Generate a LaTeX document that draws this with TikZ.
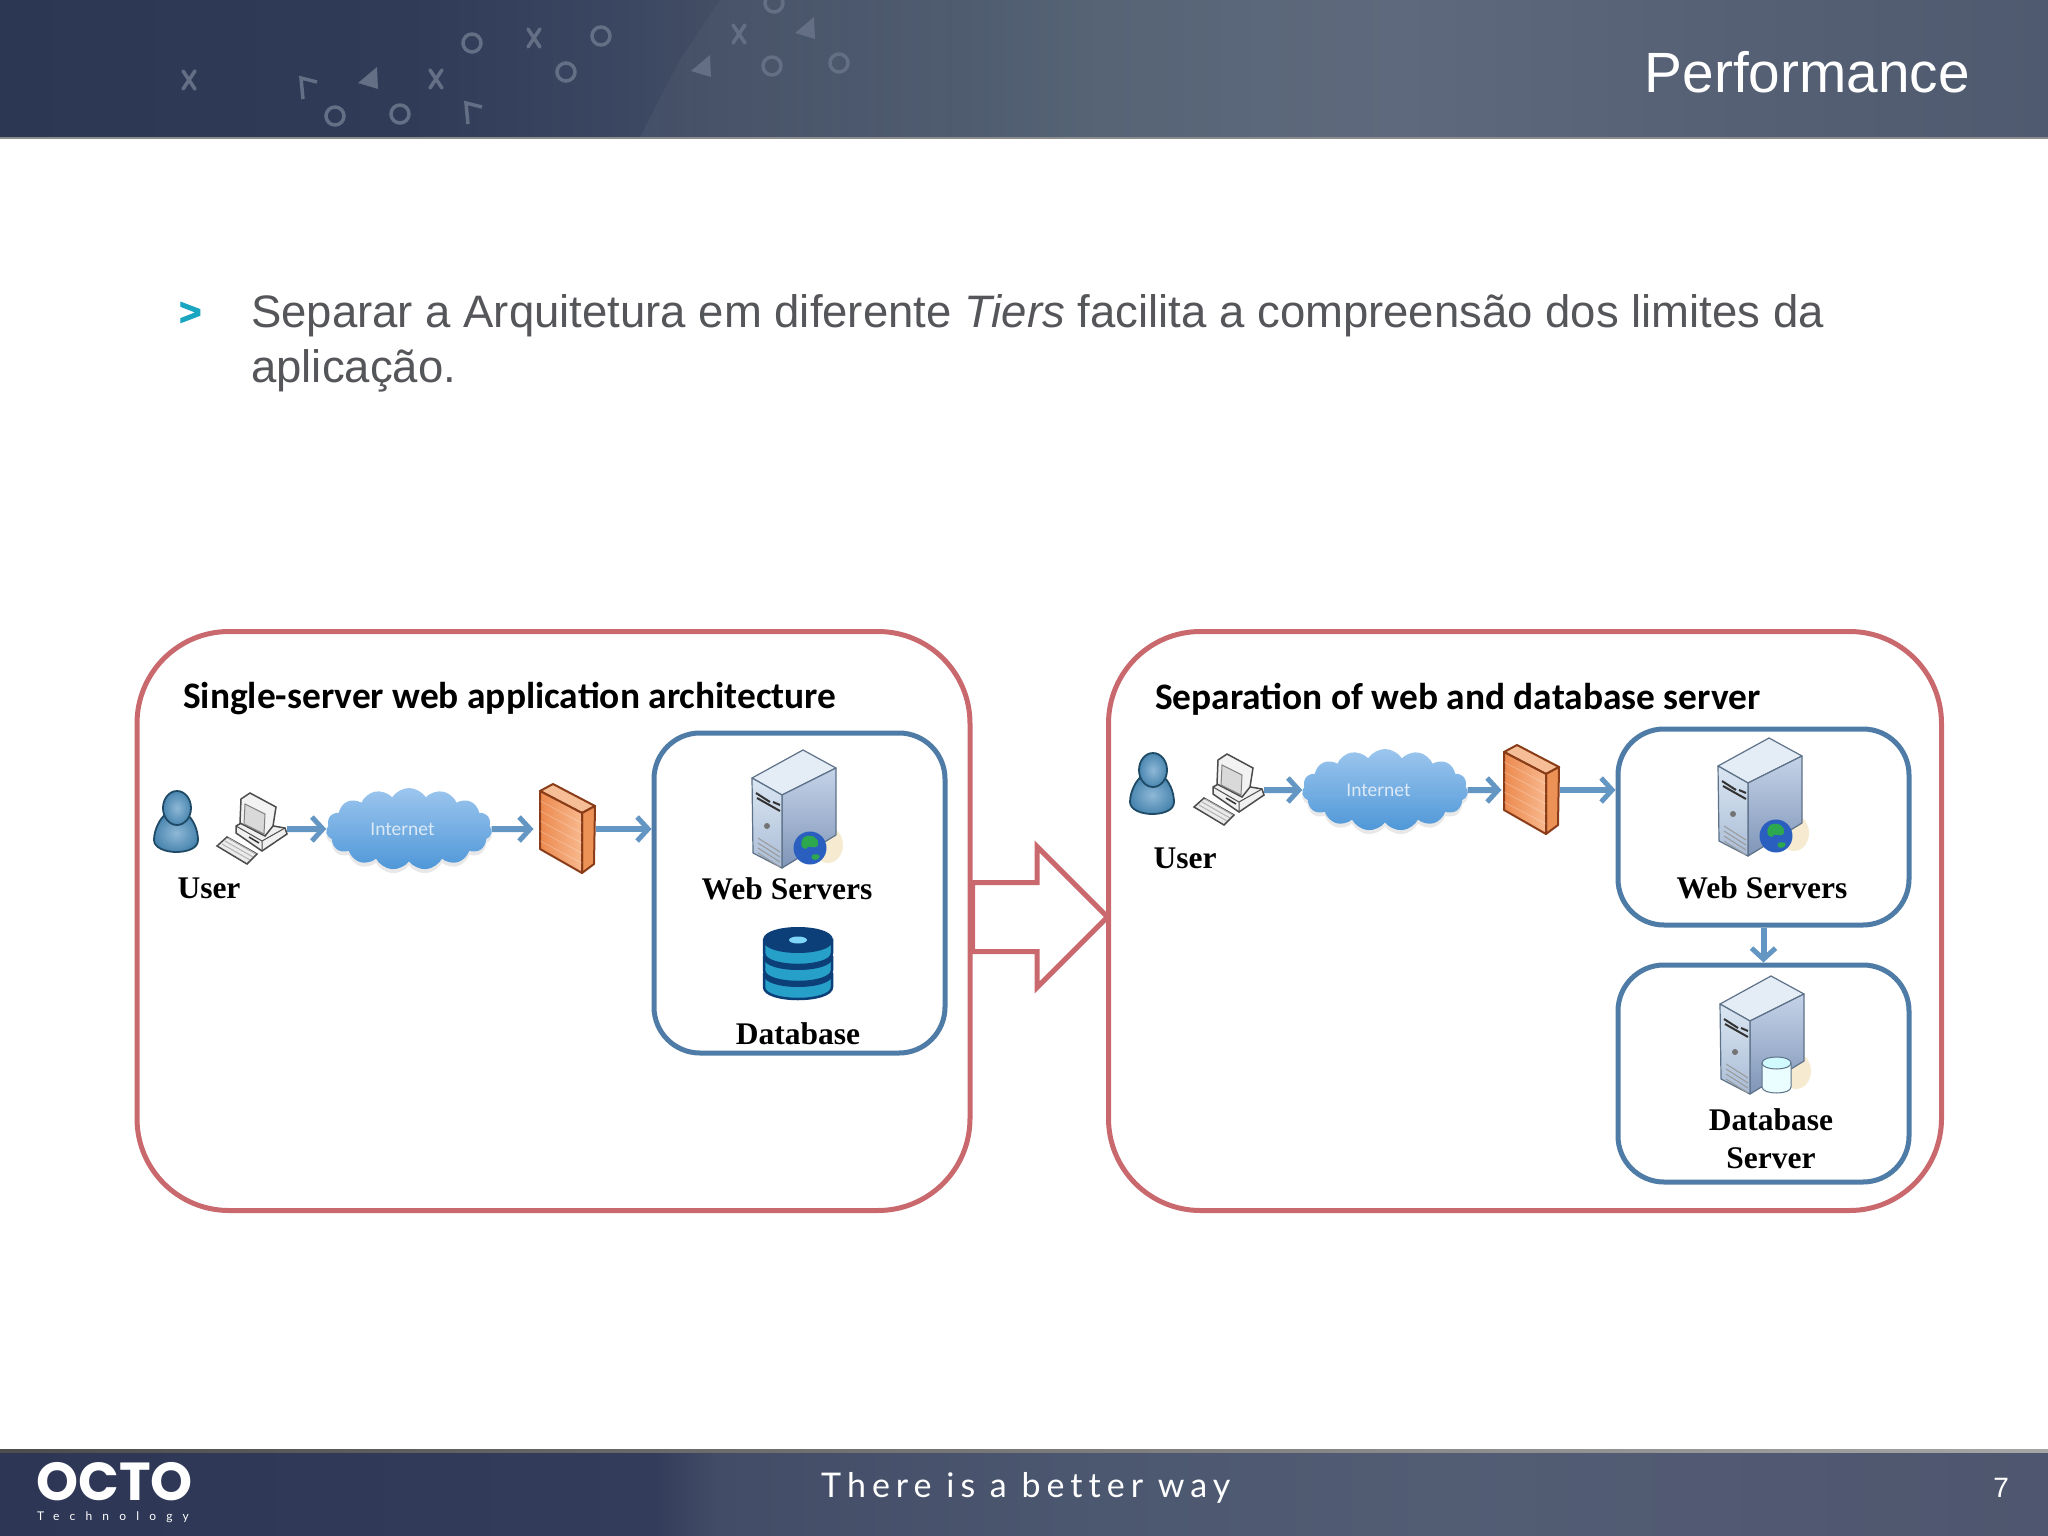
\documentclass[tikz,border=0pt]{standalone}
\usepackage{fontspec}
\setmainfont{Liberation Sans}
\newfontfamily\calibfont{Carlito}
\newfontfamily\serifbold{Liberation Serif}
\newfontfamily\logofont{Poppins}
\newfontfamily\bulletfont[BoldFeatures={FakeBold=2.5}]{Liberation Sans}
\newfontfamily\tagfont[LetterSpace=17.7,Ligatures=NoCommon]{Lato}
\newfontfamily\techfont[LetterSpace=85,Ligatures=NoCommon]{Lato}
\usetikzlibrary{arrows.meta,shapes.symbols,shapes.arrows,shadows,fadings}
\definecolor{bodygrey}{HTML}{55565A}
\definecolor{bullcyan}{HTML}{1AA5C0}
\definecolor{redline}{HTML}{C9696E}
\definecolor{blueline}{HTML}{4F7CA6}
\definecolor{flowblue}{HTML}{6496C4}
\definecolor{markgrey}{HTML}{646E84}
\definecolor{srvedge}{HTML}{5D7188}
\definecolor{walledge}{HTML}{8A3C18}
\definecolor{useredge}{HTML}{1F4A66}
\definecolor{banddark}{HTML}{0C3F78}
\definecolor{bandcyan}{HTML}{27A0C9}
\definecolor{cloudtop}{HTML}{9CC6EE}
\definecolor{cloudlow}{HTML}{4F97D8}
\definecolor{cloudtext}{HTML}{DCE9F6}
\definecolor{hA}{HTML}{2C3753}\definecolor{hB}{HTML}{303B58}\definecolor{hC}{HTML}{3C4762}
\definecolor{hD}{HTML}{424D64}\definecolor{hE}{HTML}{566476}\definecolor{hF}{HTML}{5F697D}
\definecolor{hG}{HTML}{566175}\definecolor{hH}{HTML}{4F5A70}
\pgfdeclarehorizontalshading{headshade}{100bp}{color(0bp)=(hA);color(25bp)=(hA);color(35bp)=(hB);color(40.6bp)=(hC);color(42.1bp)=(hD);color(51.9bp)=(hE);color(59.2bp)=(hF);color(66.5bp)=(hG);color(75bp)=(hH);color(100bp)=(hH)}
\definecolor{fA}{HTML}{2D3654}\definecolor{fB}{HTML}{333C5A}\definecolor{fC}{HTML}{434C66}
\definecolor{fD}{HTML}{4C5770}\definecolor{fE}{HTML}{525D74}\definecolor{fF}{HTML}{4F566F}
\pgfdeclarehorizontalshading{footshade}{100bp}{color(0bp)=(fA);color(25bp)=(fA);color(41bp)=(fB);color(42.5bp)=(fC);color(52bp)=(fD);color(60bp)=(fE);color(75bp)=(fF);color(100bp)=(fF)}
\tikzset{
   iconbox/.style={minimum width=#1,inner sep=0pt,outer sep=0pt},
   redbox/.style={draw=redline,line width=5pt,rounded corners=92pt,minimum width=833pt,minimum height=579pt,inner sep=0pt,fill=white},
   bluebox/.style={draw=blueline,line width=5pt,rounded corners=46pt,minimum width=291pt,inner sep=0pt},
   flow/.style={draw=flowblue,line width=6pt,-{Straight Barb[length=11pt,width=24pt,line width=5pt]}},
   netcloud/.style={cloud,cloud puffs=15,cloud puff arc=115,aspect=2,minimum width=166pt,minimum height=82pt,inner sep=0pt,top color=cloudtop,bottom color=cloudlow,draw=none,text=cloudtext,font=\calibfont\fontsize{19.5}{22}\selectfont,drop shadow={opacity=.18,shadow xshift=0pt,shadow yshift=-4pt}},
   serverlabel/.style={font=\serifbold\bfseries\fontsize{31.5}{34}\selectfont,text=black,inner sep=0pt},
   paneltitle/.style={font=\calibfont\bfseries\fontsize{37.4}{40}\selectfont,text=black,anchor=base west,inner sep=0pt},
   marks/.style={draw=markgrey,line width=3.5pt},
   user/.pic={
      \definecolor{uIn}{HTML}{8FB8D6}\definecolor{uOut}{HTML}{4A86B0}
      \path[draw=useredge,line width=1.8pt,inner color=uIn,outer color=uOut]
        (-10,-8) .. controls (-16,-4) and (-22,8) .. (-22,18) .. controls (-22,26) and (-10,30) .. (0,30)
        .. controls (12,30) and (22,26) .. (22,18) .. controls (22,8) and (17,-4) .. (10,-8) -- cycle;
      \path[inner color=uIn,outer color=uOut,draw=useredge,line width=1.8pt]
        (1,-14) ellipse [x radius=14,y radius=17];
   },
   computer/.pic={
      \draw[black!70,line width=1.5pt,fill=black!8] (-34,17) -- (-24,8) -- (6,25) -- (-4,35) -- cycle;
      \foreach \k in {0,1,2} {
         \draw[black!30,line width=1pt] (-29+\k*3,15-\k*3) -- (-1+\k*3,31-\k*3);
      }
      \draw[black!70,line width=1.5pt,fill=black!6] (-15,-3) -- (-6,-8) -- (34,-1) -- (36,5) -- (11,22) -- (-15,4) -- cycle;
      \draw[black!70,line width=1pt] (-15,-3) -- (11,12) -- (34,-1) (11,12) -- (11,22);
      \draw[black!80,line width=1.5pt] (-2,8) -- (8,14);
      \draw[black!70,line width=1.5pt,fill=black!5] (-10,-30) -- (-1,-36) -- (25,-22) -- (22,-3) -- (14,7) -- (-11,-6) -- cycle;
      \draw[black!50,line width=1pt,fill=black!15] (-6,-25) -- (14,-15) -- (13,5) -- (-7,-5) -- cycle;
   },
   wall/.pic={
      \definecolor{wTop}{HTML}{F6BE96}\definecolor{wSide}{HTML}{EC9256}\definecolor{wL}{HTML}{EC8A4E}\definecolor{wR}{HTML}{F8B88E}
      \draw[walledge,line width=2pt,fill=wTop,line join=round] (-27,-38) -- (-14,-45) -- (28,-23) -- (15,-16) -- cycle;
      \draw[walledge,line width=2pt,fill=wSide,line join=round] (15,-16) -- (28,-23) -- (27,35) -- (15,44) -- cycle;
      \draw[walledge,line width=2pt,left color=wL,right color=wR,line join=round] (-27,-38) -- (15,-16) -- (15,44) -- (-27,20) -- cycle;
      \foreach \b in {1,...,5} {
         \draw[white,opacity=.25,line width=.8pt] (-27,-38+\b*10) -- (15,-16+\b*10);
      }
   },
   server/.pic={
      \definecolor{sTop}{HTML}{E4EDF6}\definecolor{sRa}{HTML}{C5D3E8}\definecolor{sRb}{HTML}{7F95B8}\definecolor{sLa}{HTML}{DBE6F2}\definecolor{sLb}{HTML}{A9BCD6}
      \fill[yellow!30!brown!22!white] (34,36) ellipse [x radius=15,y radius=18];
      \draw[srvedge,line width=1.2pt,fill=sTop,line join=round] (-42,-31) -- (9,-59) -- (42,-41) -- (-12,-14) -- cycle;
      \draw[srvedge,line width=1.2pt,top color=sRa,bottom color=sRb,line join=round] (-12,-14) -- (42,-41) -- (42,26) -- (-12,59) -- cycle;
      \draw[srvedge,line width=1.2pt,top color=sLa,bottom color=sLb,line join=round] (-42,-31) -- (-12,-14) -- (-12,59) -- (-41,44) -- cycle;
      \draw[black!80,line width=2pt] (-38,-16) -- (-24,-7) (-21,-7) -- (-14,-4) (-37,-11) -- (-14,2);
      \fill[black!55] (-27,17) circle [radius=3];
      \foreach \v in {0,...,3} {
         \draw[black!40,line width=1pt] (-36,29+\v*5) -- (-14,43+\v*5);
      }
   },
   globe/.pic={
      \definecolor{gBlue}{HTML}{2A5FC0}\definecolor{gGreen}{HTML}{2EA84F}
      \fill[gBlue] (16,39) circle [radius=16.5];
      \fill[gGreen] (10,28) .. controls (18,24) and (26,30) .. (24,36) .. controls (20,42) and (16,34) .. (12,40) .. controls (6,40) and (6,32) .. (10,28) -- cycle;
      \fill[gGreen] (18,46) .. controls (24,44) and (28,46) .. (24,50) .. controls (20,52) and (16,50) .. (18,46) -- cycle;
   },
   drum/.pic={
      \draw[srvedge,line width=1pt,fill=blue!6!cyan!8!white] (0,28) -- (0,52) .. controls (0,60) and (29,60) .. (29,52) -- (29,28);
      \draw[srvedge,line width=1pt,fill=blue!10!cyan!18!white] (0,28) .. controls (0,20) and (29,20) .. (29,28) .. controls (29,36) and (0,36) .. (0,28) -- cycle;
   },
   dbstack/.pic={
      \foreach \t in {9,-8,-25} {
         \draw[banddark,line width=2.5pt,fill=bandcyan] (-34,\t) -- (-34,\t+13) .. controls (-34,\t+29) and (34,\t+29) .. (34,\t+13) -- (34,\t) -- cycle;
         \draw[banddark,line width=2pt,fill=banddark] (-34,\t) .. controls (-34,\t-16) and (34,\t-16) .. (34,\t) .. controls (34,\t+16) and (-34,\t+16) .. (-34,\t) -- cycle;
      }
      \fill[cyan!50!white] (0,-25) ellipse [x radius=9,y radius=3.5];
   },
}
\begin{document}
\begin{tikzpicture}[x=1pt,y=-1pt]
   \useasboundingbox (0,0) rectangle (2048,1536);
   \fill[white] (0,0) rectangle (2048,1536);

   \shade[shading=headshade] (0,0) rectangle (2048,137);
   \fill[white,opacity=.04,path fading=east] (640,137) -- (680,60) -- (720,0) -- (1000,0) -- (1000,137) -- cycle;
   \draw[black!45,line width=1.5pt] (0,138) -- (2048,138);
   \foreach \x/\y in {189/80,436/79,534/38,739/34} {
      \draw[marks,line cap=round] (\x-6,\y-9) -- (\x+6,\y+9) (\x+6,\y-9) -- (\x-6,\y+9);
   }
   \foreach \x/\y in {472/43,601/36,566/72,772/66,839/63,335/116,400/114,774/3} {
      \draw[marks] (\x,\y) circle [radius=9];
   }
   \foreach \x/\y in {368/78,805/28,701/66} {
      \fill[markgrey] (\x+9,\y-11) -- (\x+10,\y+11) -- (\x-10,\y+5) -- cycle;
   }
   \foreach \x/\y in {305/87,470/112} {
      \draw[marks] (\x-2,\y+12) -- (\x-4,\y-9) -- (\x+12,\y-5);
   }
   \node[anchor=base east,inner sep=0pt,text=white,font=\fontsize{56.8}{60}\selectfont] (headtitle) at (1970,93) {Performance};

   \node[anchor=base west,inner sep=0pt,text=bullcyan,font=\bulletfont\bfseries\fontsize{38}{40}\selectfont] (bullet) at (179,325) {>};
   \node[anchor=base west,inner sep=0pt,text=bodygrey,font=\fontsize{45.5}{50}\selectfont] (lineA) at (251,327) {Separar a Arquitetura em diferente \textit{Tiers} facilita a compreensão dos limites da};
   \node[anchor=base west,inner sep=0pt,text=bodygrey,font=\fontsize{45.5}{50}\selectfont] (lineB) at (251,382) {aplicação.};

   \node[redbox] (panelA) at (553.5,921) {};
   \node[paneltitle] (titleA) at (183,708) {Single-server web application architecture};
   \node[bluebox,minimum height=320pt] (boxA) at (799.5,893) {};

   \node[iconbox=44pt,minimum height=60pt] (userA) at (176,822) {};
   \pic at (userA) {user};
   \node[serverlabel] (userlabelA) at (209,888) {User};
   \node[iconbox=72pt,minimum height=70pt] (pcA) at (251,829) {};
   \pic at (pcA) {computer};
   \node[netcloud] (cloudA) at (409,829) {Internet\hspace*{13pt}};
   \node[iconbox=57pt,minimum height=88pt] (wallA) at (567,829) {};
   \pic at (wallA) {wall};
   \draw[flow] (pcA.east) -- (cloudA.west);
   \draw[flow,shorten >=5pt] (cloudA.east) -- (wallA.west);
   \draw[flow] (wallA.east) -- (wallA.east -| boxA.west);
   \node[iconbox=84pt,minimum height=118pt] (webA) at (794,809) {};
   \pic at (webA) {server};
   \pic at (webA) {globe};
   \node[serverlabel] (weblabelA) at (787,889) {Web Servers};
   \node[iconbox=70pt,minimum height=74pt] (dbA) at (798,965) {};
   \pic at (dbA) {dbstack};
   \node[serverlabel] (dblabelA) at (798,1034) {Database};

   \node[redbox] (panelB) at (1525,921) {};
   \node[paneltitle] (titleB) at (1155,709) {Separation of web and database server};
   \node[bluebox,minimum height=196pt] (boxB) at (1763.5,827) {};
   \node[bluebox,minimum height=217pt] (boxC) at (1763.5,1073.5) {};

   \node[iconbox=44pt,minimum height=60pt] (userB) at (1152,784) {};
   \pic at (userB) {user};
   \node[serverlabel] (userlabelB) at (1185,858) {User};
   \node[iconbox=72pt,minimum height=70pt] (pcB) at (1228,790) {};
   \pic at (pcB) {computer};
   \node[netcloud] (cloudB) at (1385,790) {Internet\hspace*{13pt}};
   \node[iconbox=57pt,minimum height=88pt] (wallB) at (1531,790) {};
   \pic at (wallB) {wall};
   \draw[flow] (pcB.east) -- (cloudB.west);
   \draw[flow,shorten >=1pt] (cloudB.east) -- (wallB.west);
   \draw[flow] (wallB.east) -- (wallB.east -| boxB.west);
   \node[iconbox=84pt,minimum height=118pt] (webB) at (1760,797) {};
   \pic at (webB) {server};
   \pic at (webB) {globe};
   \node[serverlabel] (weblabelB) at (1762,888) {Web Servers};
   \node[iconbox=84pt,minimum height=118pt] (dbsrvB) at (1762,1035) {};
   \pic at (dbsrvB) {server};
   \pic at (dbsrvB) {drum};
   \node[serverlabel] (dblabelB) at (1771,1120) {Database};
   \node[serverlabel] (srvlabelB) at (1771,1158) {Server};
   \draw[flow] (boxB.south) -- (boxC.north);

   \node[single arrow,draw=redline,line width=5pt,fill=white,minimum height=135pt,single arrow head extend=36pt,single arrow head indent=0pt,inner xsep=0pt,inner ysep=32pt,text width=0pt,anchor=tail] (stepArrow) at (970,917) {};

   \shade[shading=footshade] (0,1450) rectangle (2048,1536);
   \shade[left color=black!70,right color=black!35] (0,1449) rectangle (2048,1452);
   \node[anchor=base west,inner sep=0pt,text=white,font=\logofont\bfseries\fontsize{53.5}{54}\selectfont] (logo) at (36,1500) {OCTO};
   \node[anchor=base west,inner sep=0pt,text=white!70,font=\techfont\fontsize{12}{14}\selectfont] (logotech) at (37,1520) {Technology};
   \node[anchor=base west,inner sep=0pt,text=white!80,font=\tagfont\fontsize{34}{36}\selectfont] (tagline) at (821,1497) {There is a better way};
   \node[anchor=base east,inner sep=0pt,text=white,font=\fontsize{28}{30}\selectfont] (pagenum) at (2009,1497) {7};
\end{tikzpicture}
\end{document}
